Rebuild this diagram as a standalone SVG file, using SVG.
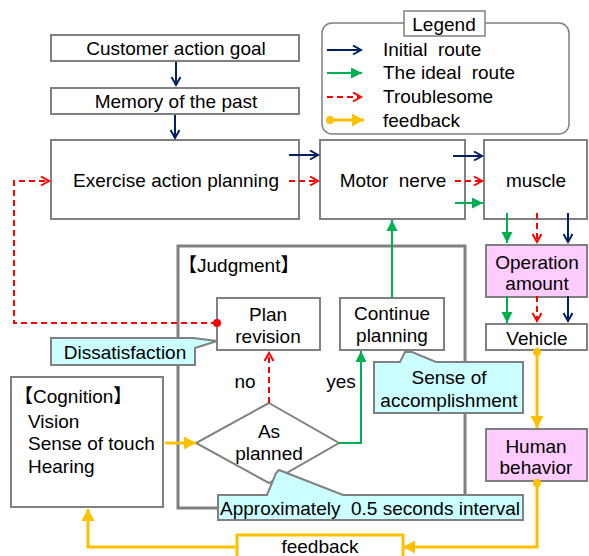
<svg xmlns="http://www.w3.org/2000/svg" width="589" height="556" viewBox="0 0 589 556">
<style>
text{font-family:"Liberation Sans","Noto Sans CJK JP",Arial,sans-serif;font-size:19px;fill:#000;white-space:pre}
.c{text-anchor:middle}
.box{fill:#fff;stroke:#808080;stroke-width:2}
.pink{fill:#FFCCFF;stroke:#808080;stroke-width:2}
.call{fill:#CCFFFF;stroke:#808080;stroke-width:2;stroke-linejoin:miter}
.navy{stroke:#002060;stroke-width:2;fill:none}
.green{stroke:#00B050;stroke-width:2;fill:none}
.red{stroke:#FF0000;stroke-width:2;fill:none;stroke-dasharray:6 4}
.gold{stroke:#FFC000;stroke-width:3;fill:none}
</style>
<defs>
<marker id="mNavy" markerUnits="userSpaceOnUse" markerWidth="12" markerHeight="12" refX="9" refY="5" orient="auto" viewBox="0 0 12 12"><path d="M1,0.5 L9,5 L1,9.5" fill="none" stroke="#002060" stroke-width="2"/></marker>
<marker id="mRed" markerUnits="userSpaceOnUse" markerWidth="12" markerHeight="12" refX="9" refY="5" orient="auto" viewBox="0 0 12 12"><path d="M1,0.5 L9,5 L1,9.5" fill="none" stroke="#FF0000" stroke-width="2"/></marker>
<marker id="mGreen" markerUnits="userSpaceOnUse" markerWidth="12" markerHeight="12" refX="11" refY="5.5" orient="auto" viewBox="0 0 12 12"><path d="M0,0 L11,5.5 L0,11 Z" fill="#00B050"/></marker>
<marker id="mGold" markerUnits="userSpaceOnUse" markerWidth="14" markerHeight="14" refX="12" refY="6.5" orient="auto" viewBox="0 0 14 14"><path d="M0,0 L12,6.5 L0,13 Z" fill="#FFC000"/></marker>
<marker id="mDot" markerUnits="userSpaceOnUse" markerWidth="10" markerHeight="10" refX="5" refY="5" orient="auto" viewBox="0 0 10 10"><circle cx="5" cy="5" r="4" fill="#FFC000"/></marker>
<marker id="mRedDot" markerUnits="userSpaceOnUse" markerWidth="10" markerHeight="10" refX="5" refY="5" orient="auto" viewBox="0 0 10 10"><circle cx="5" cy="5" r="4" fill="#FF0000"/></marker>
</defs>
<rect width="589" height="556" fill="#fff"/>

<g id="legend">
<rect x="322" y="23" width="247" height="111" rx="10" fill="#fff" stroke="#808080" stroke-width="1.5"/>
<rect x="404" y="11" width="81" height="25" fill="#fff" stroke="#808080" stroke-width="1.5"/>
<text x="444" y="31" class="c">Legend</text>
<line x1="327" y1="50" x2="361" y2="50" class="navy" marker-end="url(#mNavy)"/>
<line x1="327" y1="73" x2="362" y2="73" class="green" marker-end="url(#mGreen)"/>
<line x1="327" y1="97" x2="361" y2="97" class="red" marker-end="url(#mRed)"/>
<line x1="330" y1="120" x2="364" y2="120" class="gold" marker-start="url(#mDot)" marker-end="url(#mGold)"/>
<text x="383" y="56">Initial  route</text>
<text x="383" y="79">The ideal  route</text>
<text x="383" y="103">Troublesome</text>
<text x="383" y="127">feedback</text>
</g>

<g id="judgment">
<rect x="178" y="246" width="287" height="262" fill="none" stroke="#808080" stroke-width="3"/>
<text x="178" y="272">【Judgment】</text>
</g>

<g id="goal"><rect x="51" y="35" width="248" height="26" class="box"/><text x="176" y="55" class="c">Customer action goal</text></g>
<g id="memory"><rect x="51" y="88" width="248" height="26" class="box"/><text x="176" y="108" class="c">Memory of the past</text></g>
<g id="planning"><rect x="51" y="140" width="248" height="79" class="box"/><text x="176" y="187" class="c">Exercise action planning</text></g>
<g id="motor"><rect x="320" y="140" width="145" height="79" class="box"/><text x="393" y="187" class="c">Motor  nerve</text></g>
<g id="muscle"><rect x="484" y="140" width="103" height="79" class="box"/><text x="536" y="187" class="c">muscle</text></g>
<g id="operation"><rect x="486" y="245" width="101" height="52" class="pink"/><text x="537" y="269" class="c">Operation</text><text x="537" y="290" class="c">amount</text></g>
<g id="vehicle"><rect x="486" y="324" width="101" height="26" class="box"/><text x="537" y="345" class="c">Vehicle</text></g>
<g id="human"><rect x="486" y="429" width="101" height="52" class="pink"/><text x="536" y="453" class="c">Human</text><text x="536" y="474" class="c">behavior</text></g>
<g id="revision"><rect x="217" y="298" width="103" height="52" class="box"/><text x="268" y="321" class="c">Plan</text><text x="268" y="343" class="c">revision</text></g>
<g id="continue"><rect x="340" y="298" width="104" height="52" class="box"/><text x="392" y="320" class="c">Continue</text><text x="392" y="342" class="c">planning</text></g>
<g id="cognition"><rect x="11" y="377" width="152" height="130" class="box"/>
<text x="14" y="403">【Cognition】</text>
<text x="28" y="428">Vision</text>
<text x="28" y="450">Sense of touch</text>
<text x="28" y="473">Hearing</text></g>
<g id="asplanned"><polygon points="269,403 339,443 269,483 196,443" class="box"/><text x="269" y="438" class="c">As</text><text x="269" y="460" class="c">planned</text></g>
<g id="feedback"><rect x="237" y="535" width="166" height="30" fill="#fff" stroke="#FFC000" stroke-width="3"/><text x="320" y="553" class="c">feedback</text></g>

<g id="connectors">
<line x1="176" y1="62" x2="176" y2="85" class="navy" marker-end="url(#mNavy)"/>
<line x1="175" y1="115" x2="175" y2="138" class="navy" marker-end="url(#mNavy)"/>
<line x1="289" y1="155" x2="318" y2="155" class="navy" marker-end="url(#mNavy)"/>
<line x1="289" y1="181" x2="318" y2="181" class="red" marker-end="url(#mRed)"/>
<line x1="453" y1="156" x2="482" y2="156" class="navy" marker-end="url(#mNavy)"/>
<line x1="455" y1="181" x2="482" y2="181" class="red" marker-end="url(#mRed)"/>
<line x1="455" y1="203" x2="483" y2="203" class="green" marker-end="url(#mGreen)"/>
<line x1="507" y1="213" x2="507" y2="243" class="green" marker-end="url(#mGreen)"/>
<line x1="537" y1="213" x2="537" y2="242" class="red" marker-end="url(#mRed)"/>
<line x1="568" y1="213" x2="568" y2="242" class="navy" marker-end="url(#mNavy)"/>
<line x1="507" y1="296" x2="507" y2="323" class="green" marker-end="url(#mGreen)"/>
<line x1="537" y1="296" x2="537" y2="321" class="red" marker-end="url(#mRed)"/>
<line x1="568" y1="296" x2="568" y2="321" class="navy" marker-end="url(#mNavy)"/>
<line x1="392" y1="298" x2="392" y2="220" class="green" marker-end="url(#mGreen)"/>
<polyline points="339,443 361,443 361,351" class="green" marker-end="url(#mGreen)"/>
<line x1="269" y1="403" x2="269" y2="353" class="red" marker-end="url(#mRed)"/>
<polyline points="217,323 14,323 14,181 49,181" class="red" marker-start="url(#mRedDot)" marker-end="url(#mRed)"/>
<line x1="165" y1="443" x2="196" y2="443" class="gold" marker-end="url(#mGold)"/>
<line x1="537" y1="352" x2="537" y2="428" class="gold" marker-start="url(#mDot)" marker-end="url(#mGold)"/>
<polyline points="537,483 537,547 403,547" class="gold" marker-start="url(#mDot)" marker-end="url(#mGold)"/>
<polyline points="237,547 88,547 88,509" class="gold" marker-end="url(#mGold)"/>
</g>

<g id="callout-dissatisfaction"><polygon points="51,338 193,338 217,341 195,348 195,365 51,365" class="call"/><text x="125" y="359" class="c">Dissatisfaction</text></g>
<g id="callout-accomplishment"><polygon points="374,362 400,362 405,352 412,352 436,362 523,362 523,413 374,413" class="call"/><text x="449" y="384" class="c">Sense of</text><text x="449" y="407" class="c">accomplishment</text></g>
<g id="callout-interval"><polygon points="218,495 267,495 276,473 279,470 343,495 523,495 523,520 218,520" class="call"/><text x="370" y="515" class="c">Approximately  0.5 seconds interval</text></g>

<g id="labels"><text x="245" y="388" class="c">no</text><text x="341" y="388" class="c">yes</text></g>
</svg>
